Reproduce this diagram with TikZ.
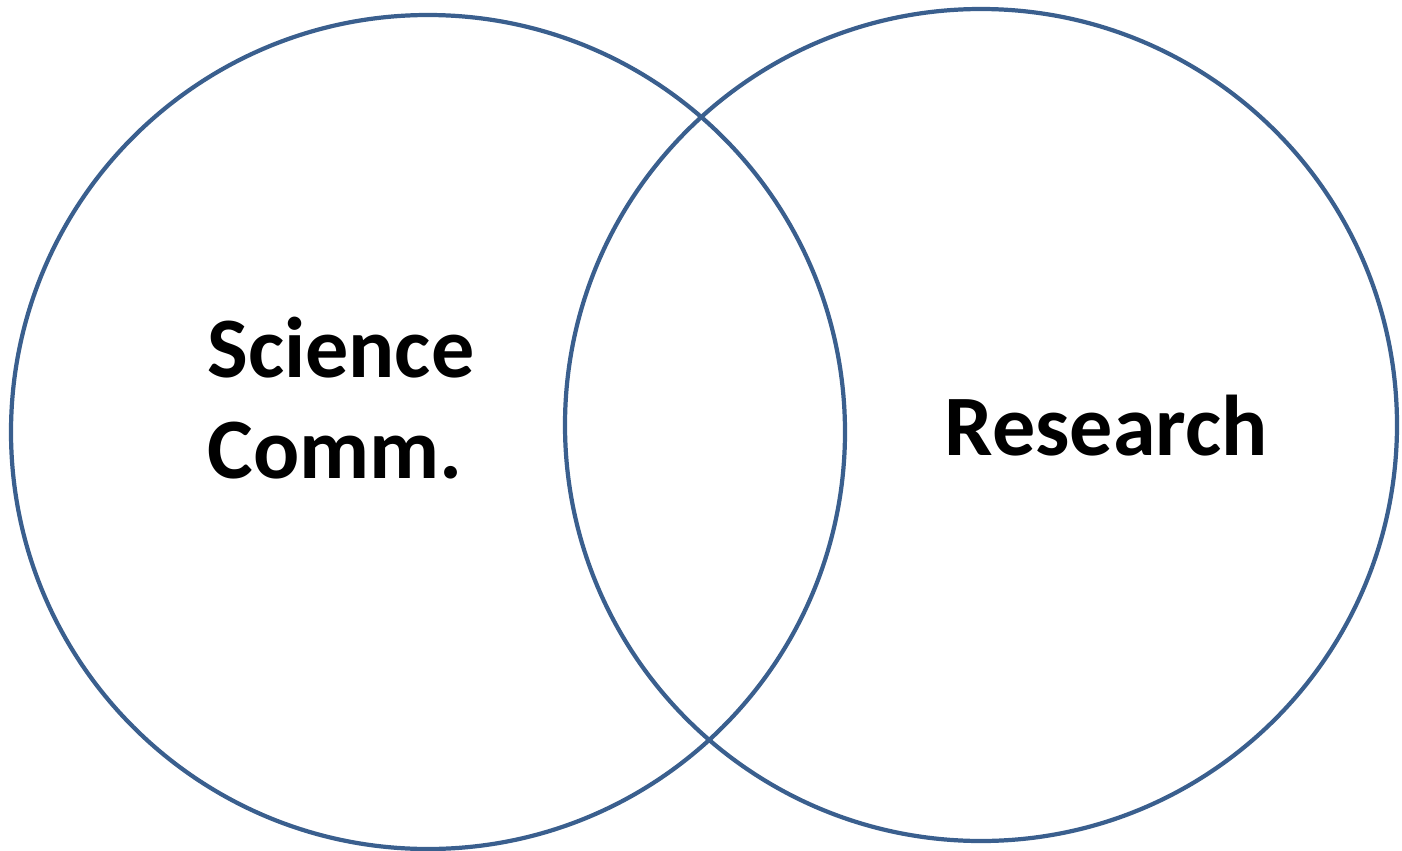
\documentclass[tikz,border=0pt]{standalone}
\usepackage{fontspec}
\setmainfont{Carlito}
\usepackage{xcolor}
\definecolor{vennblue}{HTML}{3A5F8E}

\begin{document}
\begin{tikzpicture}[x=0.01cm,y=-0.01cm]
			\useasboundingbox (0,0) rectangle (1402,851);
			\draw[color=vennblue,line width=1.2pt] (428,432) circle [radius=417];
			\draw[color=vennblue,line width=1.2pt] (981,425) circle [radius=416];
			%etiquetas
			\node[font=\fontsize{24.5}{28.7}\selectfont\bfseries,align=left,anchor=west] (scicomm) at (195,398) {Science\\Comm.};
			\node[font=\fontsize{24.5}{28.7}\selectfont\bfseries] (research) at (1106,426) {Research};
		\end{tikzpicture}
\end{document}
